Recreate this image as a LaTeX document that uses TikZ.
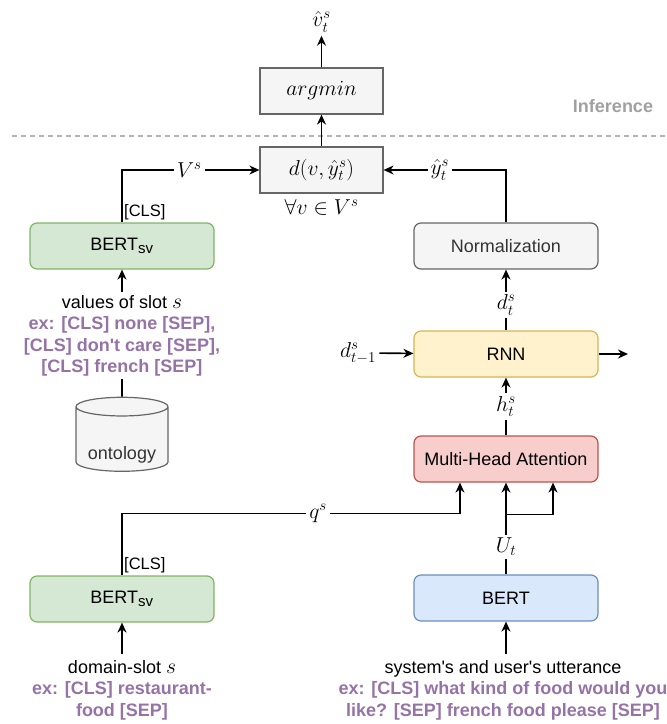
\RequirePackage{fix-cm}
\documentclass[tikz,border=0pt]{standalone}
\usepackage{amsmath, amssymb}
\usepackage{fontspec}
\setmainfont{Liberation Sans}
\DeclareMathSizes{18}{21.6}{15}{11}
\usetikzlibrary{shapes.geometric,arrows.meta,positioning}

\definecolor{boxgray}{HTML}{F5F5F5}
\definecolor{linegray}{HTML}{666666}
\definecolor{textgray}{HTML}{333333}
\definecolor{svgreen}{HTML}{D5E8D4}
\definecolor{svgreenline}{HTML}{82B366}
\definecolor{bertblue}{HTML}{DAE8FC}
\definecolor{bertblueline}{HTML}{6C8EBF}
\definecolor{attred}{HTML}{F8CECC}
\definecolor{attredline}{HTML}{B85450}
\definecolor{rnnyellow}{HTML}{FFF2CC}
\definecolor{rnnyellowline}{HTML}{D6B656}
\definecolor{expurple}{HTML}{9673A6}
\definecolor{infgray}{HTML}{A0A0A0}

\newcommand{\exline}[1]{\textcolor{expurple}{\bfseries #1}}

\begin{document}
\begin{tikzpicture}[x=1pt, y=-1pt,
  every node/.style={font=\fontsize{18}{21.5}\selectfont},
  block/.style={draw, rounded corners=7pt, line width=1.2pt, minimum width=184pt, minimum height=46pt},
  mathblock/.style={draw=linegray, fill=boxgray, line width=1.2pt, minimum width=123pt, minimum height=46pt},
  arr/.style={-{Stealth[length=10pt, width=9pt]}, line width=1.6pt},
  lbl/.style={fill=white, inner sep=3pt},
  clslbl/.style={font=\fontsize{16.5}{19}\selectfont, inner sep=2pt}]
  \useasboundingbox (0,0) rectangle (667,724);

  % Inference part
  \draw[infgray!80, line width=1.3pt, dash pattern=on 5pt off 4pt] (12,136) -- (667,136);
  \node[text=infgray, font=\fontsize{18}{21.5}\selectfont\bfseries] (inference) at (613,106) {Inference};
  \node (vhat) at (321.5,22) {$\hat{v}_t^s$};
  \node[mathblock] (argmin) at (321.5,91) {$argmin$};
  \node[mathblock] (dist) at (321.5,170) {$d(v,\hat{y}_t^s)$};
  \node (forall) at (321.5,207) {$\forall v \in V^s$};

  % Slot values
  \node[block, fill=svgreen, draw=svgreenline] (bsvtop) at (122,246) {BERT\textsubscript{sv}};
  \node[cylinder, shape border rotate=90, aspect=0.25, draw=linegray, fill=boxgray, line width=1.2pt,
        minimum width=92pt, minimum height=74pt, text=textgray] (onto) at (122,441)
        {\raisebox{-12pt}[\height][0pt]{ontology}};

  % Domain-slot
  \node[block, fill=svgreen, draw=svgreenline] (bsvbot) at (122,599) {BERT\textsubscript{sv}};
  \node[align=center, inner sep=6pt] (dslot) at (122,690) {domain-slot $s$\\
    \exline{ex: [CLS] restaurant-}\\
    \exline{food [SEP]}};

  % Utterance
  \node[block, fill=boxgray, draw=linegray, text=textgray] (norm) at (506,246) {Normalization};
  \node[block, fill=rnnyellow, draw=rnnyellowline] (rnn) at (506,354) {RNN};
  \node[block, fill=attred, draw=attredline] (mha) at (506,459) {Multi-Head Attention};
  \node[block, fill=bertblue, draw=bertblueline] (bert) at (506,598) {BERT};
  \node (dprev) at (358,353) {$d_{t-1}^s$};
  \coordinate (rnnout) at (628,354);
  \node[align=center, inner sep=6pt] (utt) at (503,690) {system\textquotesingle s and user\textquotesingle s utterance\\
    \exline{ex: [CLS] what kind of food would you}\\
    \exline{like? [SEP] french food please [SEP]}};

  % Arrows
  \draw[arr] (argmin) -- (vhat);
  \draw[arr] (dist) -- (argmin);
  \draw[arr] (bsvtop.north) |- (dist.west) node[pos=0.745, lbl] {$V^s$};
  \draw[arr] (norm.north) |- (dist.east) node[pos=0.77, lbl] {$\hat{y}_t^s$};
  \node[clslbl, anchor=south west] (cls1) at (bsvtop.north) {[CLS]};
  \draw[arr] (onto) -- (bsvtop) node[pos=0.48, lbl, align=center] {values of slot $s$\\
    \exline{ex: [CLS] none [SEP],}\\
    \exline{[CLS] don\textquotesingle t care [SEP],}\\
    \exline{[CLS] french [SEP]}};

  \draw[arr] (dslot) -- (bsvbot);
  \node[clslbl, anchor=south west] (cls2) at (bsvbot.north) {[CLS]};
  \draw[arr] (bsvbot.north) -- ++(0,-62) -| ([xshift=-46pt]mha.south) node[pos=0.29, lbl] {$q^s$};

  \draw[arr] (utt.north -| bert.south) -- (bert);
  \draw[arr] (bert) -- (mha) node[pos=0.3, lbl] {$U_t$};
  \draw[arr] (bert.north) ++(0,-60) -| ([xshift=47pt]mha.south);
  \draw[arr] (mha) -- (rnn) node[midway, lbl] {$h_t^s$};
  \draw[arr] (dprev) -- (rnn);
  \draw[arr] (rnn) -- (rnnout);
  \draw[arr] (rnn) -- (norm) node[pos=0.42, lbl] {$d_t^s$};
\end{tikzpicture}
\end{document}
